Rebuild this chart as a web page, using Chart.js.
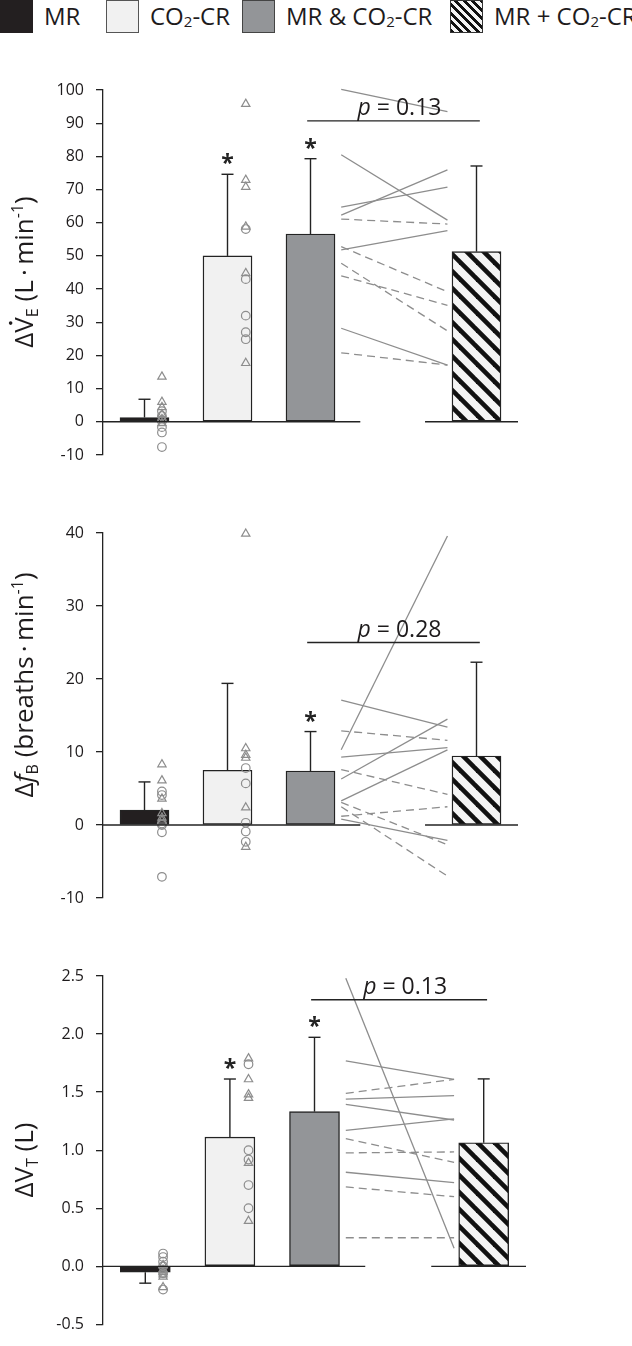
<!DOCTYPE html>
<html>
<head>
<meta charset="utf-8">
<title>Ventilatory responses</title>
<script src="https://cdn.jsdelivr.net/npm/chart.js@4.4.1/dist/chart.umd.min.js"></script>
<style>
  body { margin: 0; width: 632px; height: 1346px; position: relative; overflow: hidden; background: #fff; font-family: "Open Sans", sans-serif; color: #1e1b1c; }
  .swatch { position: absolute; top: 0; width: 33px; height: 33px; box-sizing: border-box; }
  .legend-label { position: absolute; top: -1px; font-size: 24px; line-height: normal; white-space: nowrap; }
  .legend-label sub { font-size: 15px; vertical-align: -2px; line-height: 0; }
  canvas { position: absolute; left: 0; }
</style>
</head>
<body>
<div id="legend"></div>
<canvas id="chartVE" width="632" height="440" style="top:40px"></canvas>
<canvas id="chartFB" width="632" height="440" style="top:480px"></canvas>
<canvas id="chartVT" width="632" height="426" style="top:920px"></canvas>
<script>
const categories = ['MR', 'CO₂-CR', 'MR & CO₂-CR', 'MR + CO₂-CR'];

// ΔV̇E (L·min-1)
const veTicks = [-10, 0, 10, 20, 30, 40, 50, 60, 70, 80, 90, 100];
const veMean = [1.3, 50.0, 56.6, 51.3];
const veSD = [5.5, 24.6, 22.7, 25.8];
const veMRTri = [13.6, 6.0, 4.4, 2.3, 0.8, -0.4];
const veMRCirc = [3.2, 1.8, 0.2, -1.6, -3.2, -7.6];
const veCRTri = [95.8, 72.9, 70.8, 58.8, 44.8, 17.7];
const veCRCirc = [58.1, 43.0, 32.0, 27.0, 24.9];
const veSolidPre = [100.2, 80.5, 62.3, 64.7, 51.8, 28.2];
const veSolidPost = [93.5, 60.8, 75.9, 70.7, 57.6, 17.1];
const veDashPre = [61.1, 52.8, 47.8, 44.0, 20.8];
const veDashPost = [59.6, 39.2, 27.4, 35.1, 17.1];
const veStars = [false, true, true, false];
const veP = 0.13;
const veBracket = 90.7;

// ΔfB (breaths·min-1)
const fbTicks = [-10, 0, 10, 20, 30, 40];
const fbMean = [2.05, 7.5, 7.4, 9.45];
const fbSD = [3.85, 11.9, 5.4, 12.85];
const fbMRTri = [8.3, 6.1, 3.6, 1.6, 1.0, 0.6];
const fbMRCirc = [4.6, 4.1, 0.2, 0.0, -1.0, -7.1];
const fbCRTri = [39.9, 10.5, 9.6, 9.2, 2.4, -3.0];
const fbCRCirc = [7.8, 5.7, 0.3, -0.9, -2.3];
const fbSolidPre = [10.3, 17.1, 9.3, 6.3, 3.3, 0.8];
const fbSolidPost = [39.6, 13.4, 10.6, 14.5, 10.3, -2.1];
const fbDashPre = [12.9, 7.6, 1.2, 3.1, 2.5];
const fbDashPost = [11.6, 4.2, 2.5, -2.7, -7.0];
const fbStars = [false, false, true, false];
const fbP = 0.28;
const fbBracket = 25.0;

// ΔVT (L)
const vtTicks = [-0.5, 0, 0.5, 1.0, 1.5, 2.0, 2.5];
const vtMean = [-0.05, 1.113, 1.332, 1.064];
const vtSD = [0.095, 0.50, 0.64, 0.55];
const vtMRTri = [0.01, -0.03, -0.05, -0.07, -0.09, -0.18];
const vtMRCirc = [0.11, 0.08, 0.04, 0.0, -0.06, -0.2];
const vtCRTri = [1.79, 1.61, 1.48, 1.45, 0.89, 0.39];
const vtCRCirc = [1.74, 1.0, 0.92, 0.7, 0.5];
const vtSolidPre = [2.48, 1.77, 1.44, 1.395, 1.17, 0.81];
const vtSolidPost = [0.156, 1.61, 1.47, 1.26, 1.27, 0.72];
const vtDashPre = [1.49, 1.10, 0.977, 0.684, 0.246];
const vtDashPost = [1.61, 0.895, 0.985, 0.60, 0.246];
const vtStars = [false, true, true, false];
const vtP = 0.13;
const vtBracket = 2.295;

const ink = '#232323';
const dotGrey = '#8d8d8d';

function hatch() {
    const c = document.createElement('canvas');
    c.width = c.height = 17;
    const g = c.getContext('2d');
    g.fillStyle = '#f4f4f4';
    g.fillRect(0, 0, 17, 17);
    g.strokeStyle = '#111';
    g.lineWidth = 4.6;
    for (const k of [-17, 0, 17]) {
        g.beginPath();
        g.moveTo(k - 3, -3);
        g.lineTo(k + 20, 20);
        g.stroke();
    }
    return g.createPattern(c, 'repeat');
}
const barFill = ['#231f20', '#f1f1f1', '#939598', hatch()];

// legend row across the top
const legendLeft = [0, 106, 242, 450];
const swatchCss = [
    'background:#231f20;',
    'background:#f1f1f1;border:1px solid #555;',
    'background:#939598;border:1px solid #444;',
    'background:repeating-linear-gradient(45deg,#111 0 2.6px,#f4f4f4 2.6px 6px);border:1px solid #333;'
];
document.getElementById('legend').innerHTML = categories.map((name, i) =>
    `<div class="swatch" style="left:${legendLeft[i]}px;${swatchCss[i]}"></div>` +
    `<div class="legend-label" style="left:${legendLeft[i] + 44}px">${name.replace(/₂/g, '<sub>2</sub>')}</div>`
).join('');

// draws a run of text pieces (italic / sub / sup) along a baseline
function drawRuns(ctx, runs, x, y, size, rotate) {
    ctx.save();
    ctx.translate(x, y);
    if (rotate) ctx.rotate(-Math.PI / 2);
    const fontOf = r => `${r.italic ? 'italic ' : ''}${r.sub || r.sup ? Math.round(size * 0.62) : size}px "Open Sans"`;
    let total = 0;
    runs.forEach(r => { ctx.font = fontOf(r); r.w = ctx.measureText(r.t).width; total += r.w; });
    let u = -total / 2;
    ctx.textAlign = 'left';
    ctx.textBaseline = 'alphabetic';
    ctx.fillStyle = '#1e1b1c';
    runs.forEach(r => {
        ctx.font = fontOf(r);
        const v = r.sub ? size * 0.2 : r.sup ? -size * 0.4 : 0;
        ctx.fillText(r.t, u, v);
        if (r.dot) {
            ctx.beginPath();
            ctx.arc(u + r.w * 0.62, -size * 0.86, size * 0.07, 0, Math.PI * 2);
            ctx.fill();
        }
        u += r.w;
    });
    ctx.restore();
}

function decorate(p) {
    return {
        id: 'decorate',
        afterDatasetsDraw(chart) {
            const { ctx, scales: { x, y } } = chart;
            const seg = (x1, y1, x2, y2) => { ctx.beginPath(); ctx.moveTo(x1, y1); ctx.lineTo(x2, y2); ctx.stroke(); };
            ctx.save();
            ctx.strokeStyle = ink;
            ctx.lineWidth = 1.4;

            // zero line, broken where the paired lines sit
            const y0 = y.getPixelForValue(0);
            seg(x.getPixelForValue(0), y0, x.getPixelForValue(3.1), y0);
            seg(x.getPixelForValue(3.88), y0, x.getPixelForValue(5), y0);

            // one-sided SD bars and significance stars
            ctx.fillStyle = ink;
            ctx.font = 'bold 23px "Open Sans"';
            ctx.textAlign = 'center';
            ctx.textBaseline = 'alphabetic';
            chart.getDatasetMeta(0).data.forEach((bar, i) => {
                const m = p.mean[i];
                const end = y.getPixelForValue(m + (m < 0 ? -p.sd[i] : p.sd[i]));
                seg(bar.x, bar.y, bar.x, end);
                seg(bar.x - 6, end, bar.x + 6, end);
                if (p.stars[i]) ctx.fillText('*', bar.x, end - 3);
            });

            // comparison bracket with p value
            const by = y.getPixelForValue(p.bracket);
            const bx1 = x.getPixelForValue(2.46), bx2 = x.getPixelForValue(4.54);
            seg(bx1, by, bx2, by);
            drawRuns(ctx, [{ t: 'p', italic: true }, { t: ' = ' + p.p.toFixed(2) }], (bx1 + bx2) / 2 + 6, by - 6, 23, false);

            // y axis title
            drawRuns(ctx, p.title, 33, p.titleY, 26, true);
            ctx.restore();
        }
    };
}

function makePanel(id, p) {
    const barX = [0.5, 1.5, 2.5, 4.5];
    const datasets = [{
        type: 'bar',
        data: p.mean.map((m, i) => ({ x: barX[i], y: m })),
        backgroundColor: barFill,
        borderColor: ink,
        borderWidth: 1.4,
        borderSkipped: false,
        barThickness: p.barW,
        order: 10
    }];

    // individual responses
    [[0.71, p.mrTri, 'triangle'], [0.71, p.mrCirc, 'circle'],
     [1.72, p.crTri, 'triangle'], [1.72, p.crCirc, 'circle']].forEach(([xv, ys, style]) => {
        datasets.push({
            type: 'scatter',
            data: ys.map(v => ({ x: xv, y: v })),
            pointStyle: style,
            pointRadius: style === 'triangle' ? 4.8 : 4.3,
            pointBorderColor: dotGrey,
            pointBackgroundColor: 'rgba(255,255,255,0)',
            pointBorderWidth: 1.2,
            clip: false,
            order: 1
        });
    });

    // paired MR & CO2-CR vs MR + CO2-CR lines
    const pair = (pre, post, dashed) => pre.forEach((a, i) => {
        datasets.push({
            type: 'line',
            data: [{ x: 2.87, y: a }, { x: 4.15, y: post[i] }],
            borderColor: dotGrey,
            borderWidth: 1.3,
            borderDash: dashed ? [8, 5] : [],
            pointRadius: 0,
            clip: false,
            order: 2
        });
    });
    pair(p.solidPre, p.solidPost, false);
    pair(p.dashPre, p.dashPost, true);

    new Chart(document.getElementById(id), {
        type: 'scatter',
        data: { datasets },
        options: {
            responsive: false,
            animation: false,
            events: [],
            layout: { padding: { left: 0, right: p.padRight, top: p.padTop, bottom: p.padBottom }, autoPadding: false },
            plugins: { legend: { display: false }, tooltip: { enabled: false } },
            scales: {
                x: { type: 'linear', min: 0, max: 5, display: false, offset: false },
                y: {
                    min: p.ticks[0],
                    max: p.ticks[p.ticks.length - 1],
                    afterBuildTicks: s => { s.ticks = p.ticks.map(v => ({ value: v })); },
                    afterFit: s => { s.width = 103; },
                    ticks: {
                        color: '#1e1b1c',
                        font: { family: 'Open Sans', size: 16 },
                        padding: 12,
                        autoSkip: false,
                        callback: v => v.toFixed(p.dec)
                    },
                    grid: { drawOnChartArea: false, drawTicks: true, tickLength: 7, color: ink, lineWidth: 1.3 },
                    border: { color: ink, width: 1.3 }
                }
            }
        },
        plugins: [decorate(p)]
    });
}

makePanel('chartVE', {
    ticks: veTicks, dec: 0, mean: veMean, sd: veSD,
    mrTri: veMRTri, mrCirc: veMRCirc, crTri: veCRTri, crCirc: veCRCirc,
    solidPre: veSolidPre, solidPost: veSolidPost, dashPre: veDashPre, dashPost: veDashPost,
    stars: veStars, p: veP, bracket: veBracket,
    title: [{ t: 'Δ' }, { t: 'V', dot: true }, { t: 'E', sub: true }, { t: ' (L\u2009·\u2009min' }, { t: '-1', sup: true }, { t: ')' }],
    titleY: 232, padTop: 50, padBottom: 25, padRight: 114, barW: 49
});

makePanel('chartFB', {
    ticks: fbTicks, dec: 0, mean: fbMean, sd: fbSD,
    mrTri: fbMRTri, mrCirc: fbMRCirc, crTri: fbCRTri, crCirc: fbCRCirc,
    solidPre: fbSolidPre, solidPost: fbSolidPost, dashPre: fbDashPre, dashPost: fbDashPost,
    stars: fbStars, p: fbP, bracket: fbBracket,
    title: [{ t: 'Δ' }, { t: 'f', italic: true }, { t: 'B', sub: true }, { t: ' (breaths\u2009·\u2009min' }, { t: '-1', sup: true }, { t: ')' }],
    titleY: 205, padTop: 53, padBottom: 22, padRight: 114, barW: 49
});

makePanel('chartVT', {
    ticks: vtTicks, dec: 1, mean: vtMean, sd: vtSD,
    mrTri: vtMRTri, mrCirc: vtMRCirc, crTri: vtCRTri, crCirc: vtCRCirc,
    solidPre: vtSolidPre, solidPost: vtSolidPost, dashPre: vtDashPre, dashPost: vtDashPost,
    stars: vtStars, p: vtP, bracket: vtBracket,
    title: [{ t: 'Δ' }, { t: 'V' }, { t: 'T', sub: true }, { t: ' (L)' }],
    titleY: 240, padTop: 56, padBottom: 4, padRight: 106, barW: 50
});
</script>
</body>
</html>
